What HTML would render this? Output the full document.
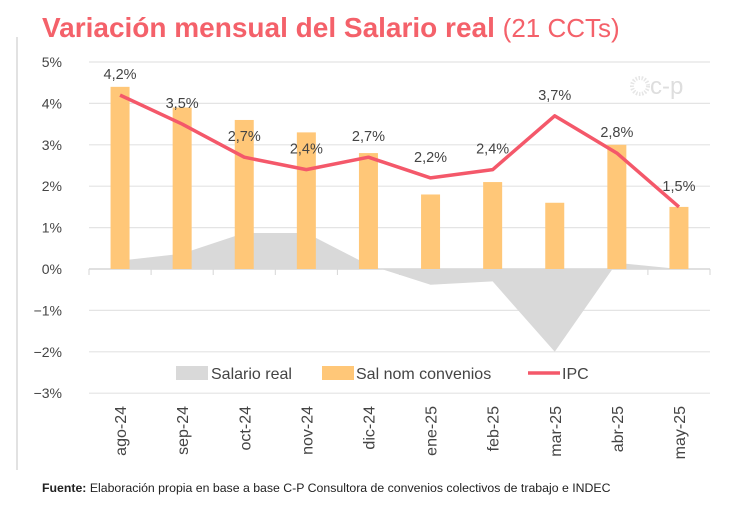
<!DOCTYPE html>
<html><head><meta charset="utf-8"><style>
body{margin:0;background:#fff;width:730px;height:508px;overflow:hidden;font-family:"Liberation Sans",sans-serif;}
</style></head><body>
<svg width="730" height="508" id="svg" style="position:absolute;left:0;top:0">
<line x1="17" y1="37" x2="17" y2="470" stroke="#e2e2e2" stroke-width="2"/>
<text x="42" y="37" font-size="28" font-weight="bold" fill="#f4616a">Variación mensual del Salario real <tspan font-weight="normal" font-size="26">(21 CCTs)</tspan></text>
<g>
<circle cx="640" cy="86" r="8" fill="none" stroke="#e6e6e6" stroke-width="4" stroke-dasharray="1.5 1.5"/>
<text x="650" y="94" font-size="24" fill="#dedede">c-p</text>
</g>
<g id="grid"></g><g id="area"></g><g id="bars"></g><g id="line"></g><g id="labels"></g>
<g>
<rect x="176" y="366" width="32" height="14" fill="#d9d9d9"/>
<text x="211" y="379" font-size="16" fill="#444">Salario real</text>
<rect x="322" y="366" width="32" height="14" fill="#ffc778"/>
<text x="356" y="379" font-size="16" fill="#444">Sal nom convenios</text>
<line x1="528" y1="373" x2="560" y2="373" stroke="#f4586a" stroke-width="3.5"/>
<text x="562" y="379" font-size="16" fill="#444">IPC</text>
</g>
<text x="42" y="492" font-size="12.3" fill="#222"><tspan font-weight="bold">Fuente:</tspan> Elaboración propia en base a base C-P Consultora de convenios colectivos de trabajo e INDEC</text>
</svg>
<script>
const categories=["ago-24","sep-24","oct-24","nov-24","dic-24","ene-25","feb-25","mar-25","abr-25","may-25"];
const salNom=[4.4,3.9,3.6,3.3,2.8,1.8,2.1,1.6,3.0,1.5];
const ipc=[4.2,3.5,2.7,2.4,2.7,2.2,2.4,3.7,2.8,1.5];
const ipcLabels=["4,2%","3,5%","2,7%","2,4%","2,7%","2,2%","2,4%","3,7%","2,8%","1,5%"];
const salReal=[0.2,0.37,0.87,0.87,0.1,-0.38,-0.3,-2.0,0.15,0.0];
const yTicks=[5,4,3,2,1,0,-1,-2,-3];
const yTickLabels=["5%","4%","3%","2%","1%","0%","\u22121%","\u22122%","\u22123%"];
const NS="http://www.w3.org/2000/svg";
const x0=89,step=62.1;
const xc=i=>x0+step*(i+0.5);
const y=v=>269-v*41.4;
function mk(tag,parent,attrs){const e=document.createElementNS(NS,tag);for(const k in attrs)e.setAttribute(k,attrs[k]);document.getElementById(parent).appendChild(e);return e;}
yTicks.forEach((t,i)=>{
 const g=mk("line","grid",{x1:x0,x2:710,y1:y(t),y2:y(t),stroke:t===0?"#d6d6d6":"#e4e4e4","stroke-width":t===0?1.5:1.2});
 
 
 const l=mk("text","grid",{x:62,y:y(t)+5,"font-size":14,fill:"#444","text-anchor":"end"});
 l.textContent=yTickLabels[i];
 
 
});
for(let i=0;i<=categories.length;i++){
 const tk=mk("line","grid",{x1:x0+step*i,x2:x0+step*i,y1:269,y2:275,stroke:"#d6d6d6"});
 
 
}
let d="M"+xc(0)+","+y(0);
salReal.forEach((v,i)=>d+=" L"+xc(i)+","+y(v));
d+=" L"+xc(salReal.length-1)+","+y(0)+" Z";
const ar=mk("path","area",{d:d,fill:"#d9d9d9"});


salNom.forEach((v,i)=>{
 const b=mk("rect","bars",{x:xc(i)-9.5,y:y(v),width:19,height:y(0)-y(v),fill:"#ffc778"});
 
 
});
const pl=mk("polyline","line",{points:ipc.map((v,i)=>xc(i)+","+y(v)).join(" "),fill:"none",stroke:"#f4586a","stroke-width":3.5,"stroke-linejoin":"round"});


ipc.forEach((v,i)=>{
 const t=mk("text","labels",{x:xc(i),y:y(v)-16,"font-size":14.5,fill:"#444","text-anchor":"middle"});
 t.textContent=ipcLabels[i];
 
 
});
categories.forEach((c,i)=>{
 const t=mk("text","labels",{x:0,y:0,"font-size":16,fill:"#444","text-anchor":"end",transform:"translate("+(xc(i)+6)+",406) rotate(-90)"});
 t.textContent=c;
 
 
});
</script>
</body></html>
